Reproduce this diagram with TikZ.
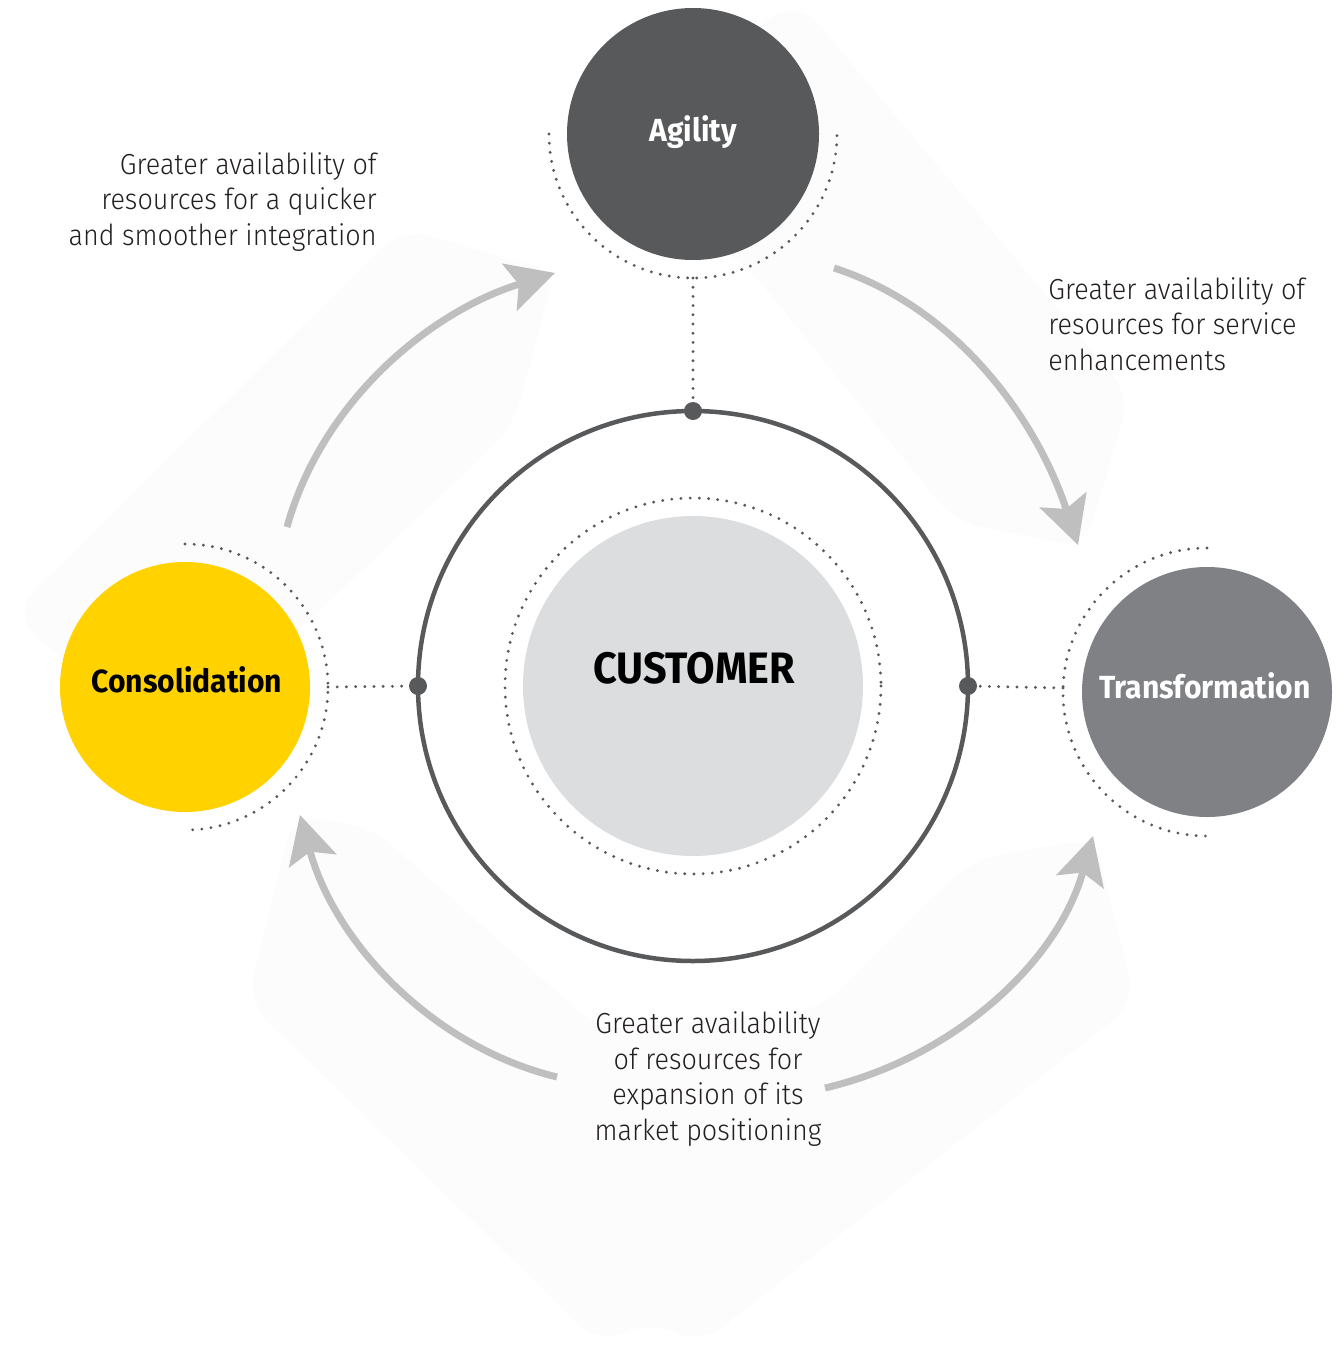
\documentclass[tikz,border=0pt]{standalone}
\usepackage{fontspec}
\setmainfont{Fira Sans}[UprightFont={* Light}, BoldFont={* SemiBold}]
\newfontfamily\notefont{Fira Sans}[UprightFont={* Light}, FakeStretch=0.93]
\newfontfamily\titlefont{Fira Sans}[UprightFont={* Bold}, FakeStretch=0.94]
\usetikzlibrary{arrows.meta}
\definecolor{darkgrey}{HTML}{58595B}
\definecolor{midgrey}{HTML}{808184}
\definecolor{palegrey}{HTML}{DCDDDE}
\definecolor{flowgrey}{HTML}{BFBFBF}
\definecolor{hazegrey}{HTML}{FCFCFC}
\definecolor{goldfill}{HTML}{FFD200}
\definecolor{inkblack}{HTML}{231F20}
\begin{document}
\begin{tikzpicture}[x=0.5pt,y=-0.5pt,
  hub/.style={circle, inner sep=0pt, outer sep=0pt, minimum size=#1},
  dotline/.style={draw=darkgrey, line width=1.6pt, line cap=round, dash pattern=on 0pt off 4.6pt},
  flow/.style={draw=flowgrey, line width=3.5pt,
    -{Stealth[length=24pt, width=25pt, inset=5pt, line width=0pt]}},
  note/.style={font=\notefont\fontsize{14.5}{17.75}\selectfont, text=inkblack, inner sep=0pt},
  title/.style={font=\titlefont\fontsize{16}{18}\selectfont, inner sep=0pt},
  haze/.style={fill=hazegrey, draw=none, rounded corners=14pt}]
\useasboundingbox (0,0) rectangle (1340,1349);

% faint background bands behind the flow arrows
\path[haze] (13,612) -- (402,228) -- (555,272) -- (513,427) -- (313,617) -- (200,720) -- (60,660) -- cycle;
\path[haze] (690,60) -- (800,2) -- (1130,395) -- (1085,548) -- (955,522) -- (752,272) -- (700,230) -- cycle;
\path[haze] (293,816) -- (370,826) -- (600,1030) -- (820,1010) -- (971,860) -- (1094,838)
  -- (1136,1002) -- (700,1345) -- (650,1320) -- (600,1345) -- (247,1001) -- cycle;

% flow arrows between the three pillars
\coordinate (f1s) at (287,527);  \coordinate (f1e) at (555,273);
\coordinate (f2s) at (834,268);  \coordinate (f2e) at (1078,545);
\coordinate (f3s) at (825,1088); \coordinate (f3e) at (1093,836);
\coordinate (f4s) at (557,1077); \coordinate (f4e) at (300,815);
\draw[flow] (f1s) .. controls (322,401) and (430,312) .. (f1e);
\draw[flow] (f2s) .. controls (958,308) and (1037,421) .. (f2e);
\draw[flow] (f3s) .. controls (953,1058) and (1057,963) .. (f3e);
\draw[flow] (f4s) .. controls (430,1046) and (335,941) .. (f4e);

% central customer hub
\node[hub=275pt, draw=darkgrey, line width=2.25pt] (ring) at (693,686) {};
\draw[dotline] (693,686) circle (188);
\node[hub=170pt, fill=palegrey] (cust) at (693,686) {};
\node[font=\titlefont\fontsize{22}{26}\selectfont, inner sep=0pt] at (694,668) {CUSTOMER};

% pillars
\node[hub=126pt, fill=darkgrey] (agility) at (693,134) {};
\node[title, text=white] at (693,132) {Agility};
\node[hub=125pt, fill=goldfill] (consol) at (185,687) {};
\node[title, text=black] at (187,680) {Consolidation};
\node[hub=125pt, fill=midgrey] (transf) at (1207,692) {};
\node[title, text=white] at (1205,686) {Transformation};

% dotted halos and links to the ring
\draw[dotline] (549,134) arc (180:0:144);
\draw[dotline] (185,544) arc (-90:90:143);
\draw[dotline] (1207,548) arc (270:90:144);
\coordinate (agtail) at (693,278);
\coordinate (cotail) at (328,687);
\coordinate (trtail) at (1063,688);
\draw[dotline] (agtail) -- (ring.north);
\draw[dotline] (cotail) -- (ring.west);
\draw[dotline] (trtail) -- (ring.east);
\fill[darkgrey] (ring.north) circle (9);
\fill[darkgrey] (ring.west) circle (9);
\fill[darkgrey] (ring.east) circle (9);

% explanatory notes
\node[note, align=right, anchor=east] (n1) at (377,202)
  {Greater availability of\\resources for a quicker\\and smoother integration};
\node[note, align=left, anchor=west] (n2) at (1048,324)
  {Greater availability of\\resources for service\\enhancements};
\node[note, align=center] (n3) at (708,1079)
  {Greater availability\\of resources for\\expansion of its\\market positioning};
\end{tikzpicture}
\end{document}
